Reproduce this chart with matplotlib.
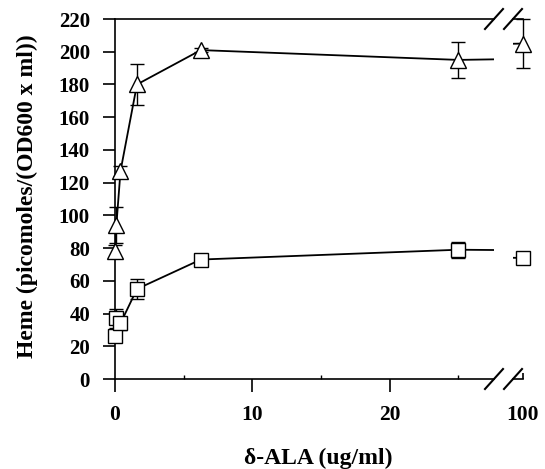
import matplotlib
matplotlib.use("Agg")
import matplotlib.pyplot as plt
import numpy as np

plt.rcParams['font.family'] = ['Liberation Serif', 'DejaVu Serif']
plt.rcParams['font.weight'] = 'bold'

ala = [0, 0.1, 0.4, 1.6, 6.25, 25, 100]
tri_vals = [78, 94, 127, 180, 201, 195, 205]
tri_err = [4, 11, 3, 12.5, 1, 11, 15]
sq_vals = [26, 37, 34, 55, 73, 79, 74]
sq_err = [3, 6, 4, 6, 1, 5, 3]
yticks = list(range(0, 221, 20))
xticks_main = [0, 10, 20]
xticks_right = [100]

W, H = 545, 469
fig = plt.figure(figsize=(W / 100, H / 100), dpi=100)

def rect(x0, x1, y0, y1):
    return [x0 / W, 1 - y1 / H, (x1 - x0) / W, (y1 - y0) / H]

ax = fig.add_axes(rect(115, 494, 19, 379))
ax2 = fig.add_axes(rect(513, 523, 19, 379))
ax.set_xlim(0, 27.6)
ax2.set_xlim(99, 100)

x = np.array(ala)
series = [(np.array(tri_vals), np.array(tri_err), '^', 11),
          (np.array(sq_vals), np.array(sq_err), 's', 9.5)]

for a in (ax, ax2):
    lo, hi = a.get_xlim()
    sel = (x >= lo) & (x <= hi)
    for vals, err, mk, ms in series:
        a.plot(x, vals, color='black', lw=1.3, zorder=2)
        eb = a.errorbar(x[sel], vals[sel], yerr=err[sel], fmt='none', ecolor='black',
                        elinewidth=1.0, capsize=5, capthick=1.0, zorder=3)
        for art in eb.lines[1] + tuple(eb.lines[2]):
            art.set_clip_on(False)
        a.plot(x[sel], vals[sel], linestyle='none', marker=mk, ms=ms, mfc='white',
               mec='black', mew=1.0, clip_on=False, zorder=4)
    a.set_ylim(0, 220)
    a.spines['right'].set_visible(False)
    for s in ('top', 'bottom', 'left'):
        a.spines[s].set_linewidth(1.2)

ax2.spines['left'].set_visible(False)
ax.set_yticks(yticks)
ax.tick_params(axis='y', direction='out', length=9, width=1.2, labelsize=15, pad=9)
ax.set_xticks(xticks_main)
ax.set_xticks([5, 15, 25], minor=True)
ax.tick_params(axis='x', which='major', direction='out', length=9, width=1.2,
               labelsize=15.5, pad=10)
ax.tick_params(axis='x', which='minor', direction='in', length=3, width=1.0)
ax2.set_yticks([])
ax2.set_xticks(xticks_right)
ax2.tick_params(axis='x', which='major', direction='in', length=4, width=1.2,
                labelsize=15.5, pad=19)

for t in ax.get_xticklabels() + ax.get_yticklabels() + ax2.get_xticklabels():
    t.set_fontweight('bold')

# break marks
for yy in (19, 379):
    for xc in (494, 513):
        fig.add_artist(plt.Line2D([(xc - 9) / W, (xc + 9) / W],
                                  [1 - (yy + 10) / H, 1 - (yy - 10) / H],
                                  color='black', lw=1.5))

fig.text(27 / W, 1 - 196 / H, 'Heme (picomoles/(OD600 x ml))', rotation=90,
         ha='center', va='center', fontsize=17, fontweight='bold')
fig.text(318 / W, 1 - 458 / H, 'δ-ALA (ug/ml)', ha='center', va='center',
         fontsize=17, fontweight='bold')

fig.savefig('out.png', dpi=100)
